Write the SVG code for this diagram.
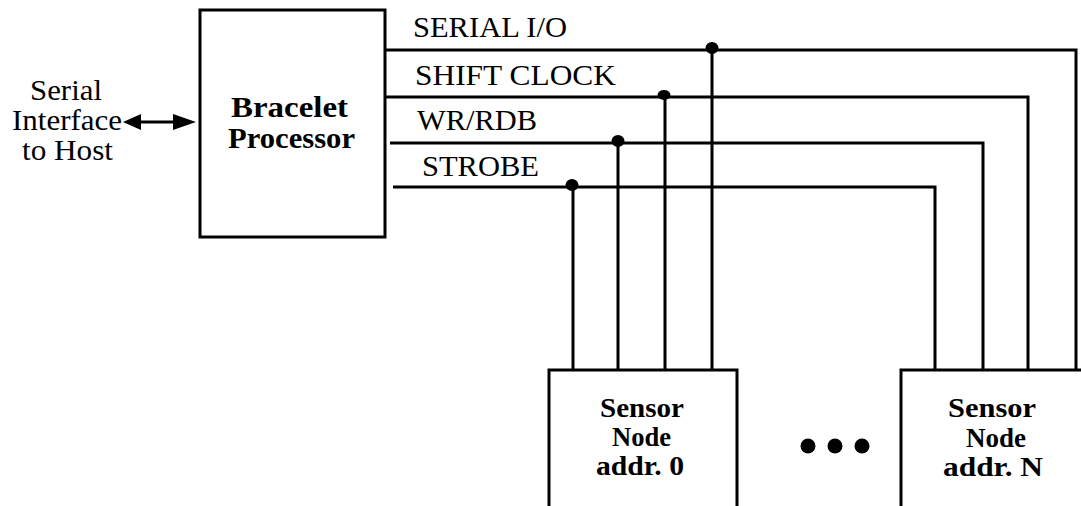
<svg xmlns="http://www.w3.org/2000/svg" width="1081" height="506" viewBox="0 0 1081 506">
<style>
.box{fill:#fff;stroke:#000;stroke-width:3}
.w{fill:none;stroke:#000;stroke-width:3}
.t{font-family:"Liberation Serif","Times New Roman",serif;font-size:29px;fill:#000}
.b{font-family:"Liberation Serif","Times New Roman",serif;font-size:30px;font-weight:bold;fill:#000}
.s{font-family:"Liberation Serif","Times New Roman",serif;font-size:28px;font-weight:bold;fill:#000}
.dot{fill:#000}
</style>
<rect width="1081" height="506" fill="#fff"/>
<g id="connectors">
<line class="w" x1="138" y1="122" x2="176" y2="122"/>
<polygon class="dot" points="123,122 141,114 141,130"/>
<polygon class="dot" points="196,122 173,114 173,130"/>
<polyline class="w" points="386,50 1076,50 1076,370"/>
<polyline class="w" points="386,97 1028,97 1028,370"/>
<polyline class="w" points="390,143 983,143 983,370"/>
<polyline class="w" points="393,187 935,187 935,370"/>
<line class="w" x1="712" y1="50" x2="712" y2="370"/>
<line class="w" x1="665" y1="97" x2="665" y2="370"/>
<line class="w" x1="618" y1="143" x2="618" y2="370"/>
<line class="w" x1="573" y1="187" x2="573" y2="370"/>
<ellipse class="dot" cx="712" cy="48" rx="6.5" ry="6"/>
<ellipse class="dot" cx="664" cy="95" rx="6.5" ry="5"/>
<ellipse class="dot" cx="618" cy="141" rx="6.5" ry="6"/>
<ellipse class="dot" cx="572" cy="185" rx="6.5" ry="6"/>
<text class="t" x="413" y="37" textLength="154" lengthAdjust="spacingAndGlyphs">SERIAL I/O</text>
<text class="t" x="415" y="85" textLength="201" lengthAdjust="spacingAndGlyphs">SHIFT CLOCK</text>
<text class="t" x="417" y="130" textLength="120" lengthAdjust="spacingAndGlyphs">WR/RDB</text>
<text class="t" x="422" y="176" textLength="117" lengthAdjust="spacingAndGlyphs">STROBE</text>
</g>
<g id="host">
<text class="t" x="30" y="100" textLength="72" lengthAdjust="spacingAndGlyphs">Serial</text>
<text class="t" x="12" y="130" textLength="110" lengthAdjust="spacingAndGlyphs">Interface</text>
<text class="t" x="22" y="160" textLength="91" lengthAdjust="spacingAndGlyphs">to Host</text>
</g>
<g id="bracelet">
<rect class="box" x="200" y="10" width="185" height="227"/>
<text class="b" x="231" y="117" textLength="117" lengthAdjust="spacingAndGlyphs">Bracelet</text>
<text class="b" x="228" y="148" textLength="127" lengthAdjust="spacingAndGlyphs">Processor</text>
</g>
<g id="sensor0">
<rect class="box" x="549" y="370" width="188" height="150"/>
<text class="s" x="600" y="417" textLength="84" lengthAdjust="spacingAndGlyphs">Sensor</text>
<text class="s" x="612" y="446" textLength="59" lengthAdjust="spacingAndGlyphs">Node</text>
<text class="s" x="596" y="475" textLength="88" lengthAdjust="spacingAndGlyphs">addr. 0</text>
</g>
<g id="ellipsis">
<circle class="dot" cx="808" cy="446" r="7.5"/>
<circle class="dot" cx="835" cy="446" r="7.5"/>
<circle class="dot" cx="862" cy="446" r="7.5"/>
</g>
<g id="sensorN">
<rect class="box" x="901" y="370" width="182" height="150"/>
<text class="s" x="948" y="417" textLength="88" lengthAdjust="spacingAndGlyphs">Sensor</text>
<text class="s" x="966" y="447" textLength="60" lengthAdjust="spacingAndGlyphs">Node</text>
<text class="s" x="943" y="476" textLength="100" lengthAdjust="spacingAndGlyphs">addr. N</text>
</g>
</svg>
